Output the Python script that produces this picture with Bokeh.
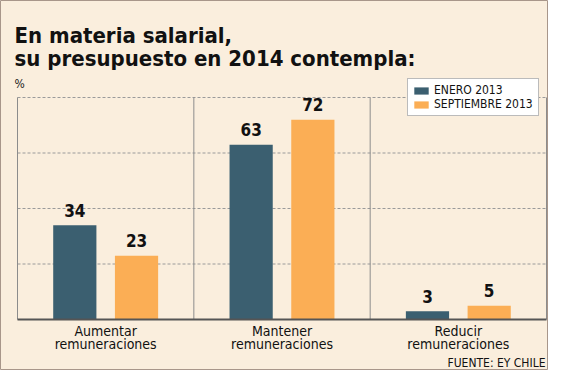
from bokeh.plotting import figure
from bokeh.models import ColumnDataSource, Label, Legend, LegendItem, Range1d
from bokeh.core.properties import value
from bokeh.embed import file_html
from bokeh.resources import INLINE

categories = ["Aumentar\nremuneraciones", "Mantener\nremuneraciones", "Reducir\nremuneraciones"]
series_names = ["ENERO 2013", "SEPTIEMBRE 2013"]
enero = [34, 63, 3]
septiembre = [23, 72, 5]
y_ticks = [20, 40, 60, 80]
y_max = 80

BG = "#FAEEDD"
C1 = "#3B5F70"
C2 = "#FBAE55"
FONT = "DejaVu Sans Condensed"

W, H = 548, 370
# plot area in canvas pixels
PL, PR, PT, PB = 17, 546, 97, 319
n = len(categories)
ux = (PR - PL) / n
uy = (PB - PT) / y_max

p = figure(width=W, height=H, output_backend="svg", toolbar_location=None,
           x_range=Range1d(-PL / ux, n + (W - PR) / ux),
           y_range=Range1d(-(H - PB) / uy, y_max + PT / uy),
           min_border=0)
p.background_fill_color = BG
p.border_fill_color = BG
p.outline_line_color = "#A8968A"
p.outline_line_width = 1
p.axis.visible = False
p.grid.visible = False

xc = [i + 0.5 for i in range(n)]
off = 0.175
w = 0.245

# grid lines
p.segment(x0=[0] * len(y_ticks), x1=[n] * len(y_ticks), y0=y_ticks, y1=y_ticks,
          line_color="#9A9A9A", line_width=1, line_dash="3 2")
vx = list(range(n + 1))
p.segment(x0=vx, x1=vx, y0=[0] * len(vx), y1=[y_max] * len(vx), line_color="#8C8C8C", line_width=1)

src1 = ColumnDataSource(dict(x=[c - off for c in xc], top=enero, lab=[str(v) for v in enero]))
src2 = ColumnDataSource(dict(x=[c + off for c in xc], top=septiembre, lab=[str(v) for v in septiembre]))

r1 = p.vbar(x="x", top="top", width=w, source=src1, fill_color=C1, line_color=None)
r2 = p.vbar(x="x", top="top", width=w, source=src2, fill_color=C2, line_color=None)

for s in (src1, src2):
    p.text(x="x", y="top", text="lab", source=s, text_align="center", text_baseline="alphabetic",
           y_offset=-15, text_font=value(FONT), text_font_style="bold", text_font_size="17px",
           text_color="#111111")

# axis line
p.segment(x0=[0], x1=[n], y0=[0], y1=[0], line_color="#555555", line_width=2)

# category labels (two lines)
line1 = [c.split("\n")[0] for c in categories]
line2 = [c.split("\n")[1] for c in categories]
p.text(x=xc, y=[0] * n, text=line1, text_align="center", text_baseline="alphabetic", y_offset=11,
       text_font=value(FONT), text_font_size="14px", text_color="#111111")
p.text(x=xc, y=[0] * n, text=line2, text_align="center", text_baseline="alphabetic", y_offset=24,
       text_font=value(FONT), text_font_size="14px", text_color="#111111")

legend = Legend(items=[LegendItem(label=series_names[0], renderers=[r1]),
                       LegendItem(label=series_names[1], renderers=[r2])],
                location=(407, H - 116))
legend.background_fill_color = "white"
legend.background_fill_alpha = 1
legend.border_line_color = "#777777"
legend.border_line_width = 1
legend.label_text_font = FONT
legend.label_text_font_size = "12px"
legend.label_text_line_height = 1.0
legend.label_text_color = "#111111"
legend.glyph_width = 18
legend.glyph_height = 9
legend.label_height = 11
legend.label_width = 100
legend.label_standoff = 4
legend.padding = 4
legend.spacing = 0
legend.margin = 0
p.add_layout(legend, "center")

# title and notes (screen units from canvas bottom-left)
p.add_layout(Label(x=14, y=H - 35, x_units="screen", y_units="screen", text="En materia salarial,",
                   text_font=FONT, text_font_style="bold", text_font_size="22px",
                   text_color="#111111", text_baseline="alphabetic"))
p.add_layout(Label(x=14, y=H - 58, x_units="screen", y_units="screen", text="su presupuesto en 2014 contempla:",
                   text_font=FONT, text_font_style="bold", text_font_size="22px",
                   text_color="#111111", text_baseline="alphabetic"))
p.add_layout(Label(x=14, y=H - 83, x_units="screen", y_units="screen", text="%",
                   text_font=FONT, text_font_size="12px", text_color="#222222",
                   text_baseline="alphabetic"))
p.add_layout(Label(x=545, y=H - 362, x_units="screen", y_units="screen", text="FUENTE: EY CHILE",
                   text_font=FONT, text_font_size="12px", text_color="#111111",
                   text_align="right", text_baseline="alphabetic"))

open("out.html", "w").write(file_html(p, INLINE))
